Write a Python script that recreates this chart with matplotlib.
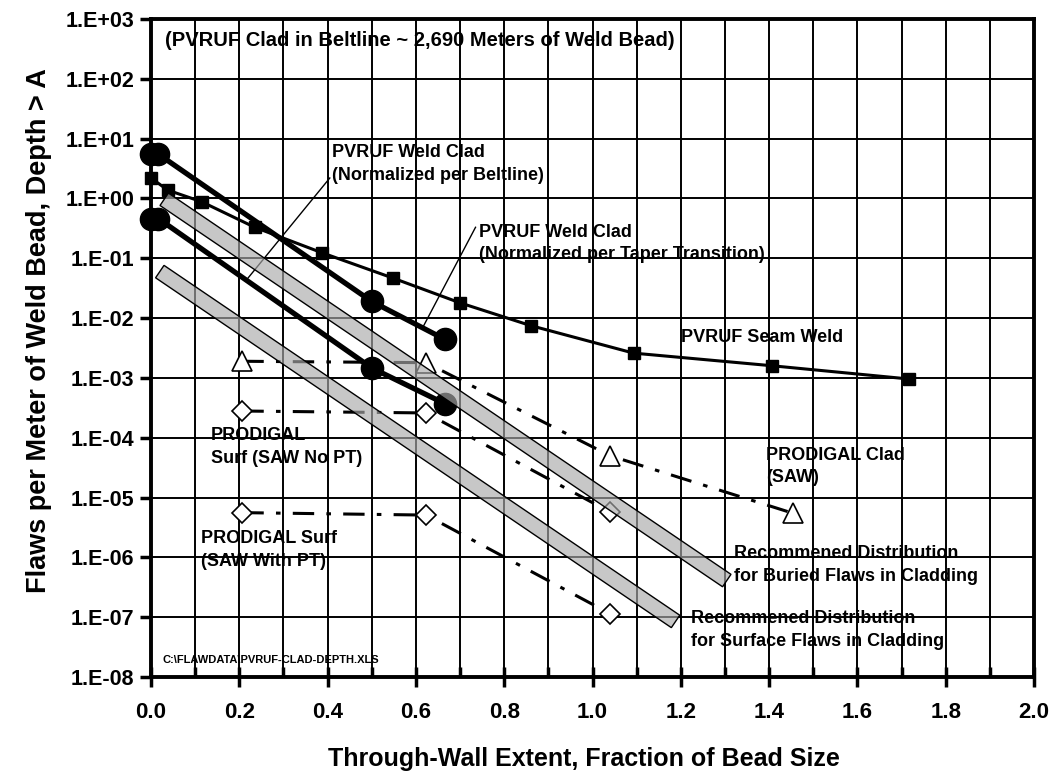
import numpy as np
import matplotlib
matplotlib.use('Agg')
import matplotlib.pyplot as plt
from matplotlib.patches import Polygon
from matplotlib.ticker import FixedLocator, MultipleLocator

plt.rcParams['font.family'] = ['Liberation Sans', 'DejaVu Sans']
plt.rcParams['font.weight'] = 'bold'

# PVRUF seam weld
seam_x = [0.0, 0.038, 0.115, 0.235, 0.387, 0.547, 0.70, 0.86, 1.093, 1.406, 1.717]
seam_y = [2.2, 1.38, 0.88, 0.33, 0.124, 0.047, 0.018, 0.0075, 0.0026, 0.0016, 0.00096]

# PVRUF weld clad, normalized per taper transition (upper) and beltline (lower)
taper_x = [0.0, 0.017, 0.50, 0.666]
taper_y = [5.5, 5.5, 0.019, 0.0044]
belt_x = [0.0, 0.017, 0.50, 0.666]
belt_y = [0.46, 0.46, 0.00147, 0.00037]

# PRODIGAL
clad_x = [0.207, 0.623, 1.04, 1.453]
clad_y = [0.0019, 0.0018, 5.0e-5, 5.5e-6]
surf_nopt_x = [0.207, 0.623, 1.04]
surf_nopt_y = [2.8e-4, 2.6e-4, 5.7e-6]
surf_pt_x = [0.207, 0.623, 1.04]
surf_pt_y = [5.6e-6, 5.1e-6, 1.14e-7]

# recommended distributions (band end points)
buried_x = [0.03, 1.304]
buried_y = [0.97, 4.1e-7]
surface_x = [0.02, 1.188]
surface_y = [0.06, 8.5e-8]

xticks = [0.0, 0.2, 0.4, 0.6, 0.8, 1.0, 1.2, 1.4, 1.6, 1.8, 2.0]
yexp = list(range(-8, 4))

fig = plt.figure(figsize=(10.52, 7.8), dpi=100)
ax = fig.add_axes([0.1435, 0.132, 0.8395, 0.8436])
ax.set_yscale('log')
ax.set_xlim(0, 2.0)
ax.set_ylim(1e-8, 1e3)

# grid
ax.xaxis.set_major_locator(FixedLocator(xticks))
ax.xaxis.set_minor_locator(MultipleLocator(0.1))
ax.yaxis.set_major_locator(FixedLocator([10.0 ** e for e in yexp]))
ax.yaxis.set_minor_locator(FixedLocator([]))
ax.set_xticklabels([f'{v:.1f}' for v in xticks])
ax.set_yticklabels([f'1.E{e:+03d}' for e in yexp])
ax.grid(True, which='both', axis='x', color='k', lw=1.4, zorder=0)
ax.grid(True, which='major', axis='y', color='k', lw=1.4, zorder=0)
ax.set_axisbelow(True)

ax.tick_params(axis='x', which='major', direction='inout', length=14, width=2.5, labelsize=16, pad=11)
ax.tick_params(axis='x', which='minor', direction='in', length=7, width=2.5)
ax.tick_params(axis='y', which='major', direction='out', length=8, width=2.5, labelsize=15.5, pad=4)
for s in ax.spines.values():
    s.set_linewidth(2.8)

# data lines
ax.plot(seam_x, seam_y, 'k-', lw=2.2, marker='s', ms=9, clip_on=False, zorder=4)
ax.plot(taper_x, taper_y, 'k-', lw=3.8, marker='o', ms=16, clip_on=False, zorder=4)
ax.plot(belt_x, belt_y, 'k-', lw=3.8, marker='o', ms=16, clip_on=False, zorder=4)

dash = (7, 4, 1.5, 4)
ax.plot(clad_x, clad_y, color='k', lw=2.2, dashes=dash, marker='^', ms=14,
        mfc='white', mec='k', mew=1.2, zorder=4)
ax.plot(surf_nopt_x, surf_nopt_y, color='k', lw=2.2, dashes=dash, marker='D', ms=10,
        mfc='white', mec='k', mew=1.2, zorder=4)
ax.plot(surf_pt_x, surf_pt_y, color='k', lw=2.2, dashes=dash, marker='D', ms=10,
        mfc='white', mec='k', mew=1.2, zorder=4)


def band(xs, ys, width_px):
    # constant-width strip drawn in display space
    p = ax.transData.transform(np.column_stack([xs, ys]))
    d = p[1] - p[0]
    n = np.array([-d[1], d[0]]) / np.hypot(*d) * width_px / 2
    corners = np.array([p[0] + n, p[1] + n, p[1] - n, p[0] - n])
    verts = ax.transData.inverted().transform(corners)
    poly = Polygon(verts, closed=True, facecolor=(0.667, 0.667, 0.667, 0.65),
                   edgecolor='k', lw=1.0, zorder=5)
    ax.add_patch(poly)


band(buried_x, buried_y, 15)
band(surface_x, surface_y, 15)

# leader lines
ax.plot([0.405, 0.22], [2.2, 0.047], 'k-', lw=1.0, zorder=3)
ax.plot([0.735, 0.616], [0.33, 0.0071], 'k-', lw=1.0, zorder=3)

fs = 13
ls = 1.42
ax.text(0.032, 6.3e2, '(PVRUF Clad in Beltline ~ 2,690 Meters of Weld Bead)',
        fontsize=14.5, fontweight='bold', va='top', zorder=6)
ax.text(0.41, 8.0, 'PVRUF Weld Clad\n(Normalized per Beltline)',
        fontsize=fs, fontweight='bold', va='top', linespacing=ls, zorder=6)
ax.text(0.743, 0.38, 'PVRUF Weld Clad\n(Normalized per Taper Transition)',
        fontsize=fs, fontweight='bold', va='top', linespacing=ls, zorder=6)
ax.text(1.20, 6.5e-3, 'PVRUF Seam Weld', fontsize=fs, fontweight='bold', va='top', zorder=6)
ax.text(1.393, 7.0e-5, 'PRODIGAL Clad\n(SAW)', fontsize=fs, fontweight='bold',
        va='top', linespacing=ls, zorder=6)
ax.text(0.136, 1.5e-4, 'PRODIGAL\nSurf (SAW No PT)', fontsize=fs, fontweight='bold',
        va='top', linespacing=ls, zorder=6)
ax.text(0.113, 2.85e-6, 'PRODIGAL Surf\n(SAW With PT)', fontsize=fs, fontweight='bold',
        va='top', linespacing=ls, zorder=6)
ax.text(1.32, 1.6e-6, 'Recommened Distribution\nfor Buried Flaws in Cladding', fontsize=fs,
        fontweight='bold', va='top', linespacing=ls, zorder=6)
ax.text(1.222, 1.31e-7, 'Recommened Distribution\nfor Surface Flaws in Cladding', fontsize=fs,
        fontweight='bold', va='top', linespacing=ls, zorder=6)
ax.text(0.027, 2.3e-8, 'C:\\FLAWDATA\\PVRUF-CLAD-DEPTH.XLS', fontsize=8,
        fontweight='bold', va='top', zorder=6)

ax.set_xlabel('Through-Wall Extent, Fraction of Bead Size', fontsize=18, fontweight='bold')
ax.set_ylabel('Flaws per Meter of Weld Bead, Depth > A', fontsize=19.5, fontweight='bold')
ax.xaxis.set_label_coords(0.49, -0.106)
ax.yaxis.set_label_coords(-0.112, 0.526)

fig.savefig('out.png', dpi=100)
